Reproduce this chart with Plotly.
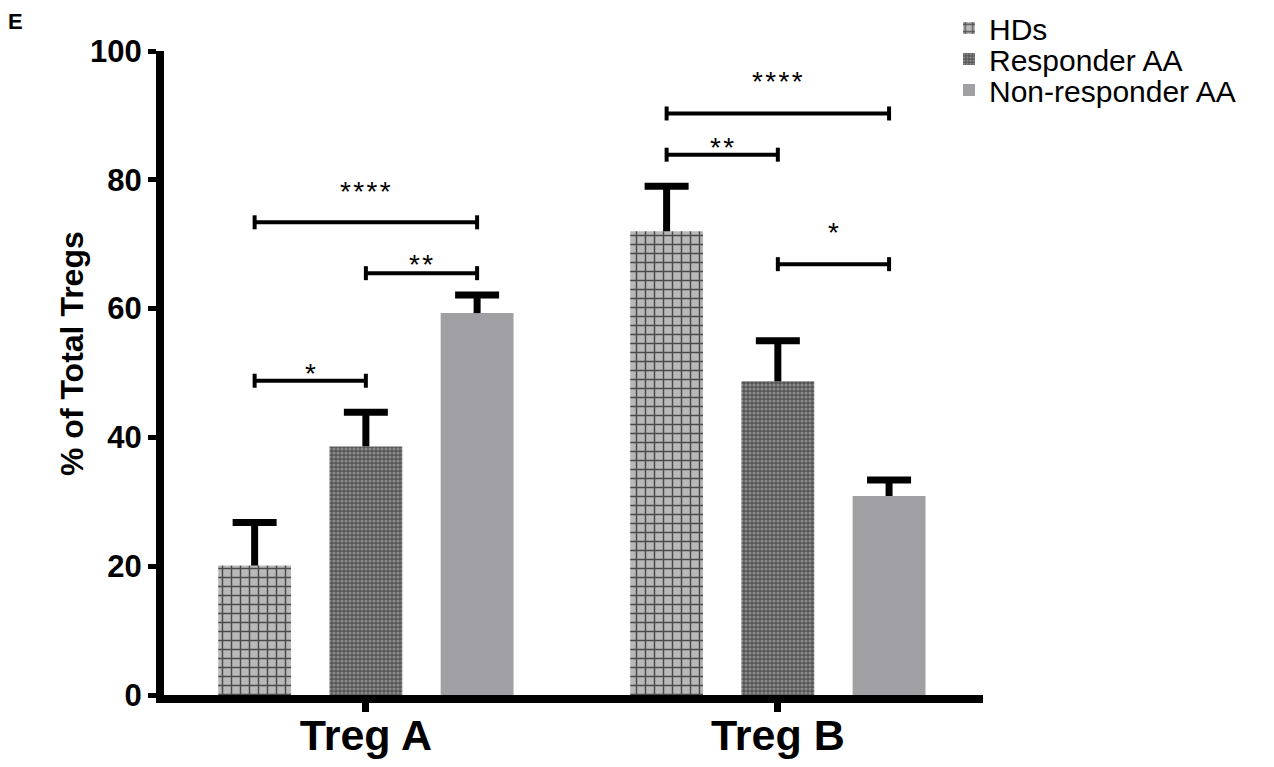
import plotly.graph_objects as go

# ---------------- data ----------------
categories = ["Treg A", "Treg B"]
groups = ["HDs", "Responder AA", "Non-responder AA"]
hds = [20.1, 72.0]
hds_err = [6.7, 7.0]
responder = [38.6, 48.7]
responder_err = [5.3, 6.3]
nonresponder = [59.3, 30.9]
nonresponder_err = [2.8, 2.5]

# significance comparisons: (category index, group i, group j, bracket level, label level, label)
comparisons = [
    (0, 0, 1, 48.8, 51.0, "*"),
    (0, 1, 2, 65.5, 67.9, "**"),
    (0, 0, 2, 73.4, 79.3, "****"),
    (1, 0, 2, 90.3, 96.3, "****"),
    (1, 0, 1, 83.9, 86.1, "**"),
    (1, 1, 2, 66.9, 72.9, "*"),
]

# ---------------- styling ----------------
FONT = "Liberation Sans, Arial, sans-serif"
PAGE = 8                      # default page (body) margin of the html
W, H = 1274 - 2 * PAGE, 767 - 2 * PAGE
ML, MT = 164 - PAGE, 51 - PAGE
PR, PB = 983 - PAGE, 695 - PAGE       # plot right / bottom in figure pixels
MR, MB = W - PR, H - PB
BARGAP = 0.19
BARGROUPGAP = 0.345
XRANGE = [-0.49, 1.498]
slot = (1 - BARGAP) / 3
plot_w, plot_h = PR - ML, PB - MT
px_per_x = plot_w / (XRANGE[1] - XRANGE[0])
px_per_y = plot_h / 100.0


def paper_x(px):
    return (px - PAGE - ML) / plot_w


def paper_y(py):
    return (PB - (py - PAGE)) / plot_h


fig = go.Figure()

series = [
    (groups[0], hds, hds_err,
     dict(color="#b9b9b9", pattern=dict(shape="+", size=9, solidity=0.3,
                                        fgcolor="#4a4a4a", bgcolor="#b9b9b9", fillmode="replace")),
     "legend"),
    (groups[1], responder, responder_err,
     dict(color="#555555", pattern=dict(shape=".", size=4, solidity=0.5,
                                        fgcolor="#8a8a8a", bgcolor="#555555", fillmode="replace")),
     "legend2"),
    (groups[2], nonresponder, nonresponder_err,
     dict(color="#a09fa4"),
     "legend3"),
]

cap_half = 22 / px_per_x
for k, (name, vals, errs, marker, leg) in enumerate(series):
    fig.add_trace(go.Bar(
        x=categories, y=vals, name=name,
        marker=dict(line=dict(width=0), **marker),
        legend=leg,
    ))
    # upper-only error whiskers (from the data arrays)
    for ci, (v, e) in enumerate(zip(vals, errs)):
        xc = ci + (k - 1) * slot
        ln = dict(color="black", width=7)
        fig.add_shape(type="line", xref="x", yref="y", x0=xc, x1=xc, y0=v, y1=v + e, line=ln)
        fig.add_shape(type="line", xref="x", yref="y", x0=xc - cap_half, x1=xc + cap_half,
                      y0=v + e, y1=v + e, line=ln)

# significance brackets
tick_half = 7 / px_per_y
for cat, gi, gj, ylev, ylab, lab in comparisons:
    x0 = cat + (gi - 1) * slot
    x1 = cat + (gj - 1) * slot
    line = dict(color="black", width=4)
    fig.add_shape(type="line", xref="x", yref="y", x0=x0, x1=x1, y0=ylev, y1=ylev, line=line)
    fig.add_shape(type="line", xref="x", yref="y", x0=x0, x1=x0,
                  y0=ylev - tick_half, y1=ylev + tick_half, line=line)
    fig.add_shape(type="line", xref="x", yref="y", x0=x1, x1=x1,
                  y0=ylev - tick_half, y1=ylev + tick_half, line=line)
    fig.add_annotation(x=(x0 + x1) / 2, y=ylab, xref="x", yref="y",
                       text="\u200a".join(lab),
                       showarrow=False, yanchor="middle", yshift=-7,
                       font=dict(family=FONT, size=28, color="black"))

# panel letter
fig.add_annotation(x=paper_x(15), y=paper_y(21),
                   xref="paper", yref="paper", text="<b>E</b>", showarrow=False,
                   xanchor="center", yanchor="middle",
                   font=dict(family=FONT, size=22, color="black"))

# y-axis title
fig.add_annotation(x=paper_x(72), y=paper_y(354),
                   xref="paper", yref="paper", text="<b>% of Total Tregs</b>",
                   showarrow=False, textangle=-90, xanchor="center", yanchor="middle",
                   font=dict(family=FONT, size=32, color="black"))

legend_common = dict(xref="container", yref="container", xanchor="left", yanchor="middle",
                     bgcolor="rgba(0,0,0,0)", borderwidth=0,
                     font=dict(family=FONT, size=30, color="black"))
LEG_X = 941
fig.update_layout(
    width=W, height=H,
    margin=dict(l=ML, r=MR, t=MT, b=MB, autoexpand=False),
    plot_bgcolor="white", paper_bgcolor="white",
    barmode="group", bargap=BARGAP, bargroupgap=BARGROUPGAP,
    showlegend=True,
    legend=dict(x=LEG_X / W, y=1 - 20 / H, **legend_common),
    legend2=dict(x=LEG_X / W, y=1 - 51 / H, **legend_common),
    legend3=dict(x=LEG_X / W, y=1 - 82 / H, **legend_common),
    xaxis=dict(
        range=XRANGE, showgrid=False, zeroline=False, automargin=False,
        showline=True, linecolor="black", linewidth=8,
        ticks="outside", ticklen=9, tickwidth=7, tickcolor="black",
        ticklabelstandoff=-14,
        tickfont=dict(family=FONT, size=43, color="black", weight="bold"),
    ),
    yaxis=dict(
        range=[0, 100], tickvals=[0, 20, 40, 60, 80, 100],
        showgrid=False, zeroline=False, automargin=False,
        showline=True, linecolor="black", linewidth=8,
        ticks="outside", ticklen=8, tickwidth=5, tickcolor="black",
        tickfont=dict(family=FONT, size=31, color="black", weight="bold"),
    ),
)

fig.write_html("out.html")
